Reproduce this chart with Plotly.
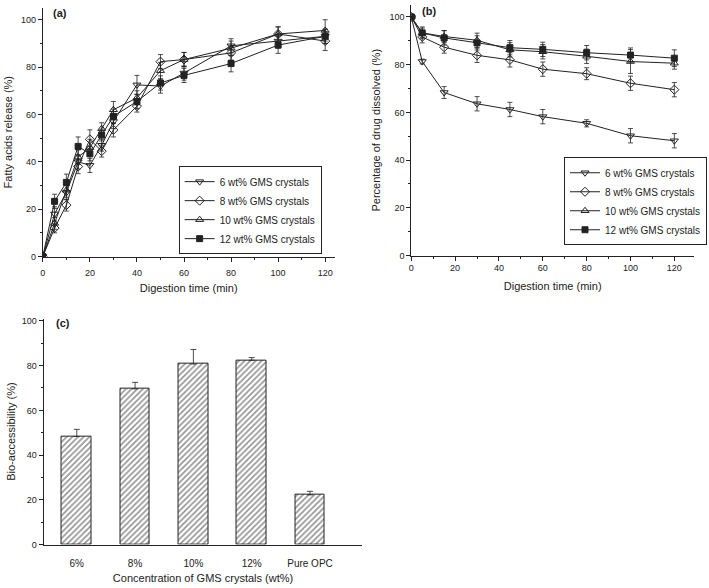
import plotly.graph_objects as go

# ---------------- Data ----------------
# Panel (a): fatty acid release
time_a = [0, 5, 10, 15, 20, 25, 30, 40, 50, 60, 80, 100, 120]
fa_6 = [0, 18, 27, 40, 38.5, 47, 57, 72.5, 72, 77.5, 89, 91, 93]
fa_6_err = [0, 3, 3, 3, 3, 2.5, 3, 4, 3, 3, 3, 3, 3]
fa_8 = [0, 12, 21.7, 38, 49.5, 44.5, 53.5, 63.5, 82.3, 83.2, 86, 94, 91]
fa_8_err = [0, 2, 2.5, 3, 4, 2.5, 3, 2.5, 3, 3, 3, 3, 4]
fa_10 = [0, 14, 28, 42, 46, 54, 62, 67, 78.5, 83.2, 88, 94, 95.5]
fa_10_err = [0, 2.5, 3, 3, 3.5, 2.5, 3.5, 3, 3.5, 3, 3, 3, 4.5]
fa_12 = [0, 23.3, 31.3, 46.5, 43.4, 51.3, 59.2, 65.5, 73.3, 76.5, 81.5, 89.3, 93]
fa_12_err = [0, 3, 3.5, 4, 3, 2.5, 3, 3, 3, 3, 3.5, 3.5, 3]

# Panel (b): drug dissolved
time_b = [0, 5, 15, 30, 45, 60, 80, 100, 120]
dd_6 = [100, 81.3, 68.3, 63.6, 61.2, 58.2, 55.4, 50.2, 48.1]
dd_6_err = [0, 1, 2.5, 3, 3, 3, 1.5, 3, 3]
dd_8 = [100, 91.6, 87.3, 83.9, 82, 78.1, 76.2, 72.2, 69.5]
dd_8_err = [0, 2.5, 2.5, 3, 3, 3, 2.5, 3, 3]
dd_10 = [100, 93.3, 91.8, 90.2, 86.2, 85.4, 83.5, 81.3, 80.6]
dd_10_err = [0, 2.5, 2.5, 3, 3, 3, 3, 5, 2.5]
dd_12 = [100, 93.3, 91.2, 89.1, 87.1, 86.4, 85, 84, 82.7]
dd_12_err = [0, 2, 3, 3, 3, 3, 3, 3, 3.5]

legend_labels = ["6 wt% GMS crystals", "8 wt% GMS crystals",
                 "10 wt% GMS crystals", "12 wt% GMS crystals"]
symbols = ["triangle-down-open", "diamond-open", "triangle-up-open", "square"]
marker_sizes = [7, 7, 7, 6]

# Panel (c): bio-accessibility
categories_c = ["6%", "8%", "10%", "12%", "Pure OPC"]
bio = [48.3, 69.6, 80.7, 82.4, 22.2]
bio_err = [3.2, 2.9, 6.5, 1.2, 1.6]

# ---------------- Figure ----------------
FONT = "Arial, Liberation Sans, sans-serif"
INK = "#222222"
fig = go.Figure()


def add_series(xs, series, xa, ya, leg):
    for (vals, errs), lab, sym, sz in zip(series, legend_labels, symbols, marker_sizes):
        fig.add_trace(go.Scatter(
            x=xs, y=vals, mode="lines+markers", name=lab,
            line=dict(color=INK, width=1),
            marker=dict(symbol=sym, size=sz, color=INK,
                        line=dict(color=INK, width=1)),
            error_y=dict(type="data", array=errs, visible=True, color=INK,
                         thickness=0.8, width=2.5),
            xaxis=xa, yaxis=ya, legend=leg))


add_series(time_a, [(fa_6, fa_6_err), (fa_8, fa_8_err), (fa_10, fa_10_err),
                    (fa_12, fa_12_err)], "x", "y", "legend")
add_series(time_b, [(dd_6, dd_6_err), (dd_8, dd_8_err), (dd_10, dd_10_err),
                    (dd_12, dd_12_err)], "x2", "y2", "legend2")

fig.add_trace(go.Bar(
    x=list(range(len(categories_c))), y=bio, width=0.51,
    marker=dict(color="white", line=dict(color=INK, width=1),
                pattern=dict(shape="/", fgcolor="#222222", bgcolor="white",
                             size=4, solidity=0.38)),
    error_y=dict(type="data", symmetric=False, array=bio_err,
                 arrayminus=[0] * len(bio), visible=True, color=INK,
                 thickness=0.8, width=3),
    showlegend=False, xaxis="x3", yaxis="y3"))

H = 588.0
W = 709.0


def px_x(a, b):
    return [a / W, b / W]


def px_y(top, bottom):
    return [1 - bottom / H, 1 - top / H]


axis_common = dict(showline=True, linecolor=INK, linewidth=1, ticks="outside",
                   ticklen=4, tickcolor=INK, showgrid=False, zeroline=False,
                   tickfont=dict(family=FONT, size=9, color=INK),
                   title_font=dict(family=FONT, size=11, color=INK))
minor_common = dict(ticks="outside", ticklen=2, dtick=10, tickcolor=INK)

legend_common = dict(bordercolor=INK, borderwidth=1, bgcolor="white",
                     font=dict(family=FONT, size=10, color=INK),
                     tracegroupgap=0, itemwidth=30)

fig.update_layout(
    width=709, height=588, margin=dict(l=0, r=0, t=0, b=0),
    paper_bgcolor="white", plot_bgcolor="white",
    font=dict(family=FONT, color=INK),
    bargap=0,
    xaxis=dict(domain=px_x(40, 333), range=[0, 124], dtick=20, anchor="y",
               title=dict(text="Digestion time (min)", standoff=6),
               ticklabelstandoff=4,
               minor=minor_common, **axis_common),
    yaxis=dict(domain=px_y(5, 257), range=[0, 105], dtick=20, anchor="x",
               title=dict(text="Fatty acids release (%)", standoff=6),
               minor=minor_common, **axis_common),
    xaxis2=dict(domain=px_x(410, 694), range=[0, 129], dtick=20, anchor="y2",
                title=dict(text="Digestion time (min)", standoff=9),
                minor=minor_common, **axis_common),
    yaxis2=dict(domain=px_y(2, 256), range=[0, 105], dtick=20, anchor="x2",
                title=dict(text="Percentage of drug dissolved (%)", standoff=6),
                minor=minor_common, **axis_common),
    xaxis3=dict(domain=px_x(40.7, 361), range=[-0.57, 4.9], anchor="y3",
                tickmode="array", tickvals=list(range(len(categories_c))),
                ticktext=categories_c, ticklabelstandoff=9,
                title=dict(text="Concentration of GMS crystals (wt%)", standoff=6),
                **{**axis_common, "ticks": "",
                   "tickfont": dict(family=FONT, size=10, color=INK)}),
    yaxis3=dict(domain=px_y(320, 549), range=[0, 101], dtick=20, anchor="x3",
                title=dict(text="Bio-accessibility (%)", standoff=3),
                minor=minor_common, **axis_common),
    legend=dict(x=320 / W, y=1 - 210 / H, xanchor="right", yanchor="middle",
                **legend_common),
    legend2=dict(x=707 / W, y=1 - 201 / H, xanchor="right", yanchor="middle",
                 **legend_common),
    annotations=[
        dict(text="<b>(a)</b>", x=48 / W, y=1 - 10 / H, xref="paper", yref="paper",
             xanchor="left", yanchor="middle", showarrow=False,
             font=dict(family=FONT, size=11, color=INK)),
        dict(text="<b>(b)</b>", x=419 / W, y=1 - 8 / H, xref="paper", yref="paper",
             xanchor="left", yanchor="middle", showarrow=False,
             font=dict(family=FONT, size=11, color=INK)),
        dict(text="<b>(c)</b>", x=51 / W, y=1 - 324 / H, xref="paper", yref="paper",
             xanchor="left", yanchor="middle", showarrow=False,
             font=dict(family=FONT, size=11, color=INK)),
    ],
)

fig.write_html("out.html", config={"displayModeBar": False},
               post_script="document.body.style.margin='0';document.body.style.padding='0';")
